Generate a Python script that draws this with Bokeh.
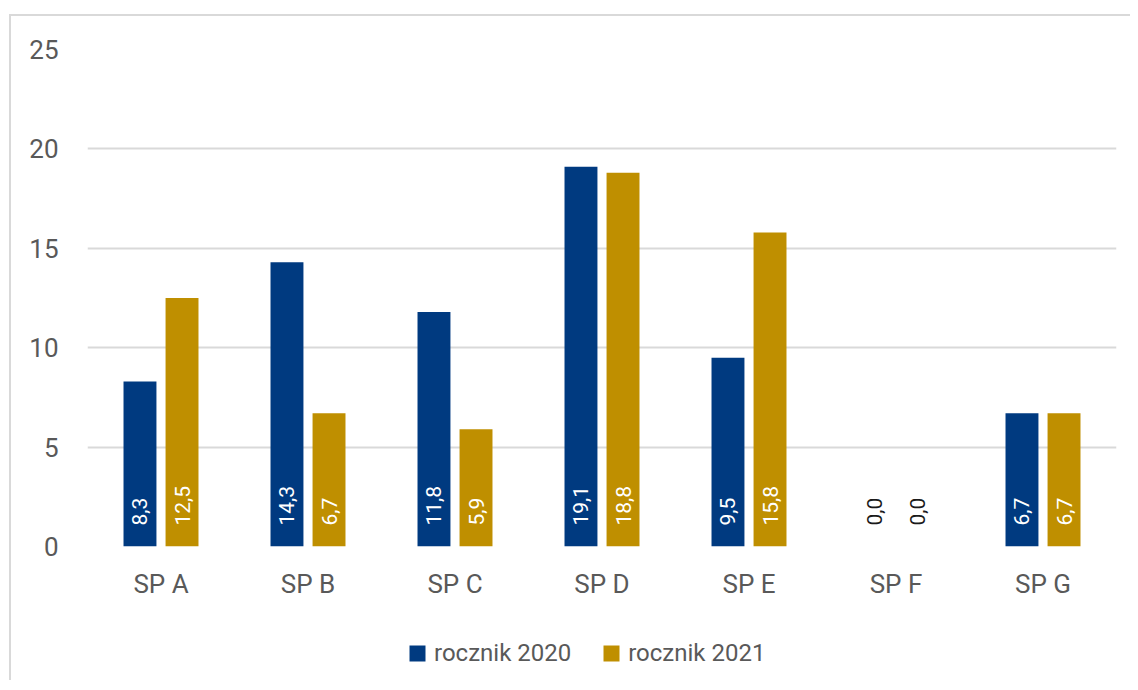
from bokeh.plotting import figure
from bokeh.layouts import column
from bokeh.models import ColumnDataSource, Range1d, FactorRange, Legend, LegendItem, FixedTicker
from bokeh.transform import dodge
from bokeh.core.properties import value
from bokeh.embed import file_html
from bokeh.resources import INLINE
import math

categories = ["SP A", "SP B", "SP C", "SP D", "SP E", "SP F", "SP G"]
rocznik_2020 = [8.3, 14.3, 11.8, 19.1, 9.5, 0.0, 6.7]
rocznik_2021 = [12.5, 6.7, 5.9, 18.8, 15.8, 0.0, 6.7]
series_names = ["rocznik 2020", "rocznik 2021"]
y_ticks = [0, 5, 10, 15, 20, 25]

NAVY = "#003A80"
GOLD = "#BF8F00"
GRID = "#D9D9D9"
TXT = "#595959"
AXFONT = "Roboto"

def fmt(v):
    return ("%.1f" % v).replace(".", ",")

src = ColumnDataSource(dict(
    cat=categories,
    a=rocznik_2020,
    b=rocznik_2021,
    la=[fmt(v) for v in rocznik_2020],
    lb=[fmt(v) for v in rocznik_2021],
    ca=["white" if v > 0 else "#1A1A1A" for v in rocznik_2020],
    cb=["white" if v > 0 else "#1A1A1A" for v in rocznik_2021],
))

p = figure(width=1119, height=604, x_range=FactorRange(*categories),
           y_range=Range1d(0, 25), output_backend="svg", toolbar_location=None,
           min_border_left=76, min_border_right=14, min_border_top=33, min_border_bottom=74)
p.outline_line_color = None
p.background_fill_color = "white"
p.border_fill_color = "white"

OFF = 0.143
W = 0.224
p.vbar(x=dodge("cat", -OFF, range=p.x_range), top="a", width=W, source=src,
       fill_color=NAVY, line_color=None)
p.vbar(x=dodge("cat", OFF, range=p.x_range), top="b", width=W, source=src,
       fill_color=GOLD, line_color=None)

for col, lab, tc in [(-OFF, "la", "ca"), (OFF, "lb", "cb")]:
    p.text(x=dodge("cat", col, range=p.x_range), y=0, text=lab, source=src,
           angle=math.pi / 2, text_align="left", text_baseline="middle",
           y_offset=-21, text_color=tc, text_font=value(AXFONT),
           text_font_size="21px")

p.xgrid.grid_line_color = None
p.ygrid.grid_line_color = GRID
p.ygrid.grid_line_width = 2
p.yaxis.ticker = FixedTicker(ticks=y_ticks)

for ax in (p.xaxis, p.yaxis):
    ax.axis_line_color = None
    ax.major_tick_line_color = None
    ax.minor_tick_line_color = None
    ax.major_label_text_color = TXT
    ax.major_label_text_font = AXFONT
    ax.major_label_text_font_size = "26px"
p.yaxis.major_label_standoff = 23
p.xaxis.major_label_standoff = 16

# legend strip below the chart (frame aligned with the chart's frame)
lg = figure(width=1119, height=60, x_range=Range1d(0, 1), y_range=Range1d(0, 1),
            output_backend="svg", toolbar_location=None,
            min_border_left=0, min_border_right=0, min_border_top=0, min_border_bottom=0)
lg.axis.visible = False
lg.grid.visible = False
lg.outline_line_color = None
lg.border_fill_color = "white"
ga = lg.vbar(x=[-5], top=[0], width=0, fill_color=NAVY, line_color=None)
gb = lg.vbar(x=[-5], top=[0], width=0, fill_color=GOLD, line_color=None)
legend = Legend(items=[LegendItem(label=series_names[0], renderers=[ga]),
                       LegendItem(label=series_names[1], renderers=[gb])],
                orientation="horizontal", location=(320, 13),
                glyph_width=20, glyph_height=20, label_standoff=7, spacing=30,
                label_text_font="Roboto", label_text_font_size="24px",
                label_text_color=TXT, border_line_color=None,
                background_fill_alpha=0, padding=0, margin=0)
lg.add_layout(legend, "center")

layout = column(p, lg, spacing=0,
                styles={"border-left": "2px solid #D9D9D9", "border-top": "2px solid #D9D9D9",
                        "margin-left": "9px", "margin-top": "14px"})

open("out.html", "w").write(file_html(layout, INLINE))
